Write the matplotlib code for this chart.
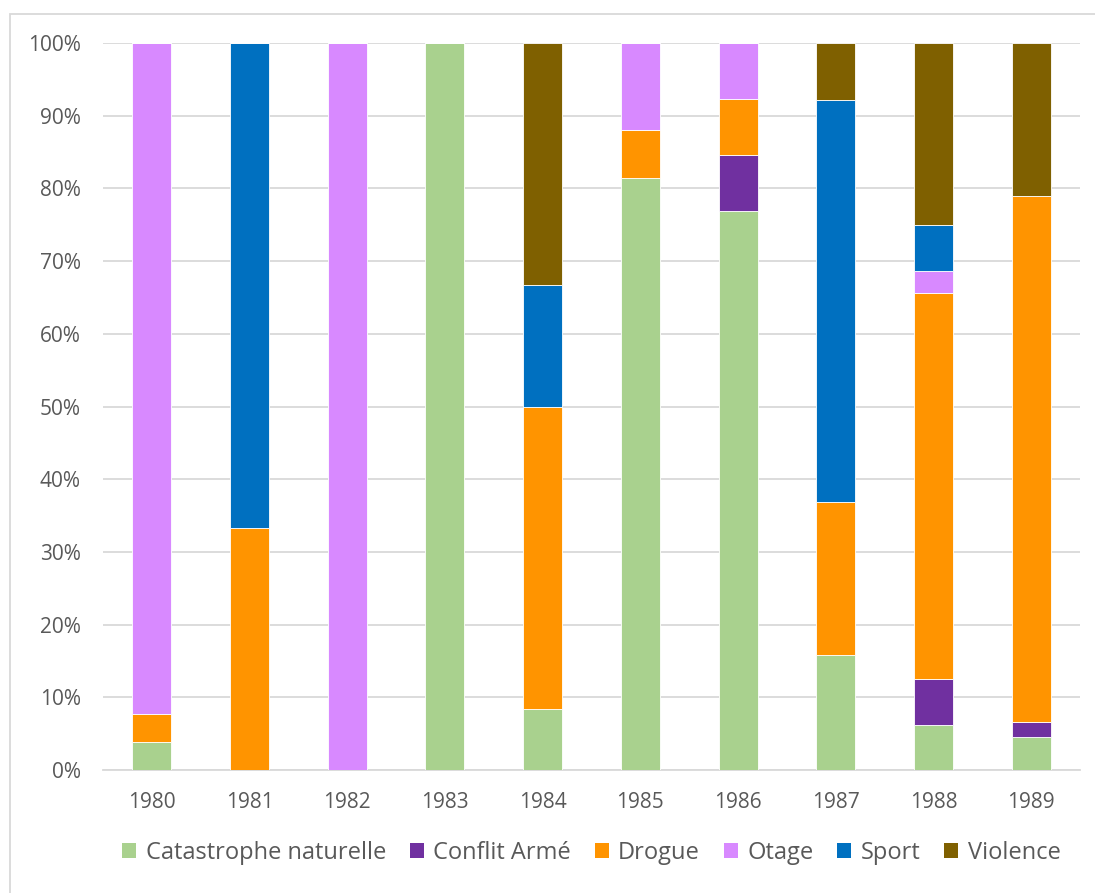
import matplotlib
matplotlib.use("Agg")
import matplotlib.pyplot as plt
from matplotlib.patches import Rectangle
from matplotlib.ticker import FuncFormatter

years = ["1980", "1981", "1982", "1983", "1984", "1985", "1986", "1987", "1988", "1989"]
series_names = ["Catastrophe naturelle", "Conflit Armé", "Drogue", "Otage", "Sport", "Violence"]
catastrophe = [3.85, 0, 0, 100, 8.33, 81.4, 76.9, 15.8, 6.25, 4.5]
conflit = [0, 0, 0, 0, 0, 0, 7.7, 0, 6.25, 2.1]
drogue = [3.85, 33.3, 0, 0, 41.67, 6.7, 7.7, 21.05, 53.1, 72.3]
otage = [92.3, 0, 100, 0, 0, 11.9, 7.7, 0, 3.1, 0]
sport = [0, 66.7, 0, 0, 16.67, 0, 0, 55.3, 6.3, 0]
violence = [0, 0, 0, 0, 33.33, 0, 0, 7.85, 25.0, 21.1]
colors = ["#A9D18E", "#7030A0", "#FF9400", "#D889FF", "#0070C0", "#7F6000"]

data = [catastrophe, conflit, drogue, otage, sport, violence]

plt.rcParams['font.family'] = ['Open Sans', 'DejaVu Sans']
fig = plt.figure(figsize=(10.95, 8.93), dpi=100)
ax = fig.add_axes([103/1095, 1 - 770/893, (1080 - 103)/1095, (770 - 43)/893])

x = list(range(len(years)))
bottom = [0.0] * len(years)
for name, vals, c in zip(series_names, data, colors):
    ax.bar(x, vals, width=0.4, bottom=bottom, color=c, label=name,
           edgecolor="white", linewidth=0.6, zorder=3)
    bottom = [b + v for b, v in zip(bottom, vals)]

ax.set_xlim(-0.5, len(years) - 0.5)
ax.set_ylim(0, 100)
ax.set_yticks(range(0, 101, 10))
ax.yaxis.set_major_formatter(FuncFormatter(lambda v, p: f"{int(v)}%"))
ax.set_xticks(x)
ax.set_xticklabels(years)
ax.grid(axis="y", color="#D9D9D9", linewidth=1.3, zorder=0)
for s in ["top", "right", "left"]:
    ax.spines[s].set_visible(False)
ax.spines["bottom"].set_color("#D9D9D9")
ax.spines["bottom"].set_linewidth(1.3)
ax.tick_params(axis="both", length=0, colors="#595959", labelsize=15)
ax.tick_params(axis="y", pad=16)
ax.tick_params(axis="x", pad=16)

handles, labels = ax.get_legend_handles_labels()
leg = fig.legend(handles, labels, loc="center", bbox_to_anchor=(0.54, 1 - 853/893),
                 ncol=6, frameon=False, fontsize=17, handlelength=0.6, handleheight=0.6,
                 handletextpad=0.4, columnspacing=1.0, labelcolor="#595959")
for h in leg.legend_handles:
    h.set_edgecolor("none")

fig.patches.append(Rectangle((10/1095, -0.01), 1.1, 1 - 14/893 + 0.01, transform=fig.transFigure,
                             fill=False, edgecolor="#D9D9D9", linewidth=1.3))

fig.savefig("out.png", dpi=100)
